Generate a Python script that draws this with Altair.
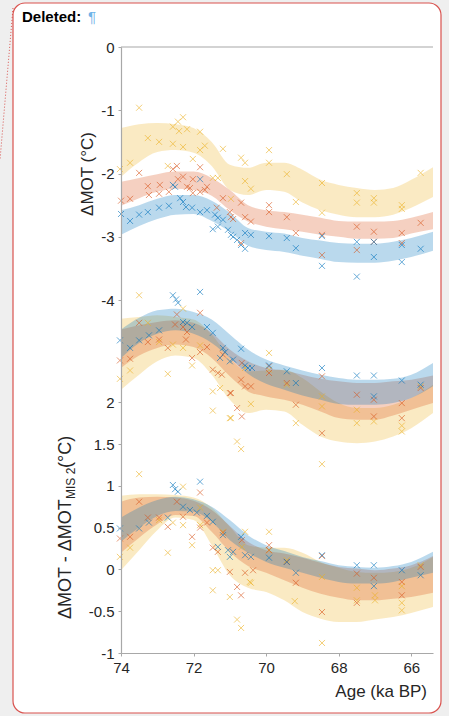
import altair as alt
import pandas as pd

# ---------------- data ----------------
SERIES = ["blue", "red", "yellow"]
COLORS = ["#0072BD", "#D95319", "#EDB120"]

# ages (ka BP) at which the uncertainty bands are read
KA = [74, 73.5, 73, 72.5, 72, 71.5, 71, 70.5, 70, 69.5, 69, 68.5, 68, 67.5, 67, 66.5, 66, 65.4]

# upper panel: ΔMOT (°C)
top_yellow_hi = [-1.28, -1.22, -1.20, -1.22, -1.28, -1.50, -1.86, -1.91, -1.83, -1.83, -1.94, -2.10, -2.18, -2.23, -2.26, -2.23, -2.10, -1.90]
top_yellow_lo = [-2.05, -1.82, -1.66, -1.63, -1.67, -1.88, -2.26, -2.34, -2.26, -2.29, -2.46, -2.58, -2.65, -2.69, -2.69, -2.65, -2.54, -2.37]
top_red_hi = [-2.13, -2.07, -2.01, -1.97, -1.97, -2.07, -2.26, -2.50, -2.58, -2.61, -2.65, -2.70, -2.75, -2.76, -2.76, -2.75, -2.70, -2.61]
top_red_lo = [-2.51, -2.39, -2.29, -2.24, -2.26, -2.35, -2.58, -2.76, -2.84, -2.88, -2.92, -2.97, -3.00, -3.03, -3.03, -3.02, -2.95, -2.88]
top_blue_hi = [-2.58, -2.50, -2.40, -2.34, -2.34, -2.43, -2.62, -2.86, -2.92, -2.95, -3.02, -3.06, -3.10, -3.11, -3.11, -3.08, -3.02, -2.92]
top_blue_lo = [-2.97, -2.83, -2.72, -2.65, -2.64, -2.75, -2.92, -3.14, -3.21, -3.24, -3.30, -3.35, -3.40, -3.41, -3.41, -3.38, -3.32, -3.22]

# middle group (lower axis)
mid_blue_hi = [2.87, 3.01, 3.10, 3.12, 3.08, 2.99, 2.81, 2.63, 2.51, 2.44, 2.38, 2.33, 2.29, 2.27, 2.27, 2.28, 2.33, 2.47]
mid_blue_lo = [2.53, 2.71, 2.82, 2.86, 2.82, 2.71, 2.53, 2.34, 2.22, 2.15, 2.08, 2.03, 1.98, 1.97, 1.97, 1.99, 2.05, 2.19]
mid_red_hi = [2.87, 2.92, 2.96, 2.98, 2.95, 2.83, 2.63, 2.49, 2.41, 2.38, 2.33, 2.28, 2.25, 2.23, 2.23, 2.25, 2.27, 2.32]
mid_red_lo = [2.41, 2.56, 2.65, 2.69, 2.66, 2.53, 2.31, 2.13, 2.07, 2.03, 1.97, 1.89, 1.81, 1.79, 1.79, 1.84, 1.91, 1.99]
mid_yellow_hi = [3.00, 3.02, 3.04, 3.02, 2.99, 2.81, 2.53, 2.37, 2.38, 2.39, 2.29, 2.13, 1.99, 1.93, 1.93, 1.97, 2.05, 2.21]
mid_yellow_lo = [2.15, 2.33, 2.49, 2.56, 2.53, 2.33, 2.03, 1.87, 1.91, 1.89, 1.73, 1.59, 1.53, 1.51, 1.53, 1.59, 1.69, 1.87]

# lower group: ΔMOT - ΔMOT_MIS2 (°C)
bot_blue_hi = [0.62, 0.74, 0.83, 0.87, 0.84, 0.75, 0.59, 0.41, 0.29, 0.22, 0.15, 0.10, 0.05, 0.03, 0.02, 0.04, 0.09, 0.21]
bot_blue_lo = [0.33, 0.50, 0.64, 0.70, 0.69, 0.57, 0.35, 0.20, 0.09, 0.02, -0.04, -0.10, -0.15, -0.17, -0.17, -0.15, -0.10, -0.04]
bot_red_hi = [0.81, 0.86, 0.87, 0.86, 0.82, 0.71, 0.52, 0.33, 0.23, 0.19, 0.14, 0.08, 0.03, 0.01, -0.01, 0.01, 0.05, 0.16]
bot_red_lo = [0.20, 0.38, 0.54, 0.65, 0.64, 0.45, 0.21, 0.04, -0.04, -0.13, -0.22, -0.29, -0.34, -0.37, -0.37, -0.35, -0.33, -0.28]
bot_yellow_hi = [0.88, 0.90, 0.90, 0.89, 0.86, 0.74, 0.51, 0.29, 0.26, 0.26, 0.20, 0.09, 0.02, -0.03, -0.04, -0.03, 0.02, 0.15]
bot_yellow_lo = [-0.01, 0.23, 0.47, 0.62, 0.59, 0.29, -0.07, -0.22, -0.27, -0.37, -0.51, -0.59, -0.63, -0.63, -0.60, -0.57, -0.52, -0.45]

# individual records (age ka BP, value)
top_yellow_pts = [(74.03, -1.93), (73.75, -1.83), (73.50, -0.96), (73.26, -1.44), (72.95, -1.50), (72.71, -1.88),
                  (72.57, -1.26), (72.57, -1.53), (72.43, -1.18), (72.40, -1.33), (72.29, -1.11), (72.29, -1.58),
                  (72.18, -1.30), (72.02, -1.77), (71.82, -1.34), (71.82, -1.63), (71.69, -1.56), (71.47, -2.07),
                  (71.33, -2.07), (71.19, -1.61), (70.97, -2.40), (70.69, -1.75), (70.58, -1.83), (70.58, -2.12),
                  (70.42, -2.24), (69.92, -1.63), (69.92, -1.83), (69.43, -2.01), (69.18, -2.45), (68.46, -2.15),
                  (68.46, -2.62), (67.50, -2.31), (67.50, -2.46), (67.03, -2.39), (67.03, -2.46), (66.26, -2.50),
                  (66.26, -2.56), (65.74, -1.99)]
top_red_pts = [(74.00, -2.43), (73.75, -2.40), (73.50, -1.99), (73.26, -2.20), (73.23, -2.34), (72.95, -2.32),
               (72.93, -2.18), (72.68, -2.29), (72.57, -1.93), (72.46, -1.88), (72.43, -2.09), (72.29, -2.05),
               (72.18, -2.21), (72.10, -2.23), (72.02, -2.09), (72.02, -2.31), (71.82, -1.90), (71.82, -2.29),
               (71.69, -2.26), (71.63, -2.21), (71.36, -2.54), (71.19, -2.39), (71.00, -2.61), (70.97, -2.69),
               (70.91, -2.72), (70.69, -2.46), (70.69, -3.10), (70.58, -2.69), (70.42, -2.76), (69.92, -2.50),
               (69.92, -2.61), (69.43, -2.69), (69.18, -2.94), (68.46, -2.97), (68.46, -3.29), (67.50, -2.84),
               (67.50, -3.21), (67.03, -2.92), (67.03, -3.08), (66.26, -2.94), (66.26, -3.10), (65.74, -2.78)]
top_blue_pts = [(74.00, -2.64), (73.75, -2.75), (73.50, -2.65), (73.26, -2.61), (72.95, -2.54), (72.68, -2.51),
                (72.57, -2.18), (72.51, -2.21), (72.37, -2.39), (72.29, -2.45), (72.21, -2.53), (72.04, -2.54),
                (71.82, -2.09), (71.82, -2.61), (71.63, -2.58), (71.47, -2.88), (71.41, -2.65), (71.33, -2.70),
                (71.33, -2.84), (71.19, -2.73), (71.05, -2.89), (70.97, -2.97), (70.91, -3.00), (70.80, -3.05),
                (70.69, -3.13), (70.58, -2.94), (70.58, -3.19), (70.42, -2.97), (69.92, -2.99), (69.43, -3.02),
                (69.18, -3.18), (68.46, -2.99), (68.46, -3.46), (67.50, -3.08), (67.50, -3.63), (67.03, -3.08),
                (67.03, -3.32), (66.26, -3.13), (66.26, -3.40), (65.74, -3.19)]

mid_blue_pts = [(74.03, 2.74), (73.75, 2.65), (73.50, 2.74), (73.23, 2.80), (72.95, 2.86), (72.57, 3.28),
                (72.48, 3.23), (72.43, 3.19), (72.29, 2.96), (72.18, 2.95), (72.04, 2.90), (71.82, 3.32),
                (71.63, 2.90), (71.47, 2.83), (71.27, 2.53), (71.19, 2.65), (71.13, 2.60), (71.00, 2.49),
                (70.91, 2.51), (70.69, 2.64), (70.58, 2.44), (70.50, 2.41), (70.39, 2.41), (69.92, 2.44),
                (69.43, 2.37), (69.18, 2.23), (68.46, 2.41), (67.50, 2.32), (67.03, 2.32), (67.03, 2.07),
                (66.26, 2.26), (65.74, 2.21)]
mid_red_pts = [(74.03, 2.50), (73.75, 2.52), (73.50, 2.95), (73.26, 2.72), (72.95, 2.75), (72.71, 2.65),
               (72.51, 2.93), (72.46, 3.05), (72.29, 2.90), (72.21, 2.75), (72.18, 2.84), (72.04, 2.53),
               (71.82, 3.07), (71.82, 2.60), (71.63, 2.66), (71.47, 2.39), (71.33, 2.35), (71.22, 2.33),
               (71.19, 2.57), (71.00, 2.11), (70.97, 2.11), (70.80, 1.93), (70.69, 2.27), (70.67, 2.47),
               (70.67, 1.83), (70.58, 2.19), (70.42, 2.19), (69.92, 2.43), (69.92, 2.35), (69.43, 2.23),
               (69.18, 1.97), (68.46, 2.31), (68.46, 1.63), (67.50, 2.09), (67.03, 2.03), (67.03, 1.83),
               (66.26, 1.99), (66.26, 1.81), (65.74, 2.17)]
mid_yellow_pts = [(74.03, 2.28), (73.75, 2.38), (73.50, 3.28), (73.26, 2.95), (72.95, 2.72), (72.71, 2.34),
                  (72.57, 2.69), (72.29, 3.12), (72.29, 2.65), (72.04, 2.44), (71.82, 2.68), (71.47, 2.13),
                  (71.47, 1.90), (71.27, 2.17), (71.00, 1.81), (70.97, 1.81), (70.80, 1.53), (70.69, 1.44),
                  (70.58, 2.41), (70.42, 1.98), (69.92, 2.59), (69.92, 2.39), (69.43, 2.21), (69.18, 1.75),
                  (68.46, 2.07), (68.46, 1.95), (68.46, 1.26), (67.50, 1.91), (67.50, 1.75), (67.03, 1.77),
                  (66.26, 1.72), (66.26, 1.65), (65.74, 2.19)]

bot_blue_pts = [(74.03, 0.49), (73.50, 0.49), (73.23, 0.56), (72.71, 0.62), (72.57, 1.01), (72.51, 0.96),
                (72.43, 0.93), (72.29, 0.75), (72.10, 0.71), (71.91, 0.68), (71.82, 1.05), (71.63, 0.64),
                (71.47, 0.57), (71.33, 0.27), (71.19, 0.41), (71.05, 0.23), (71.00, 0.15), (70.91, 0.21),
                (70.69, 0.39), (70.58, 0.17), (70.42, 0.15), (69.92, 0.14), (69.43, 0.09), (69.18, -0.04),
                (68.46, 0.17), (67.50, 0.05), (67.03, 0.05), (67.03, -0.20), (66.26, -0.01), (65.74, -0.07)]
bot_red_pts = [(74.03, 0.37), (73.75, 0.39), (73.50, 0.81), (73.26, 0.62), (72.95, 0.62), (72.71, 0.51),
               (72.46, 0.81), (72.29, 0.63), (72.04, 0.39), (71.82, 0.92), (71.82, 0.50), (71.63, 0.56),
               (71.47, 0.26), (71.33, 0.21), (71.19, 0.44), (71.00, -0.03), (70.80, -0.21), (70.69, -0.31),
               (70.67, 0.35), (70.58, -0.04), (70.36, -0.01), (69.92, 0.29), (69.92, 0.23), (69.43, 0.09),
               (69.18, -0.16), (68.46, 0.16), (68.46, -0.51), (67.50, -0.05), (67.50, -0.40), (67.03, -0.10),
               (66.26, -0.15), (66.26, -0.31), (65.74, 0.03)]
bot_yellow_pts = [(74.03, 0.15), (73.75, 0.26), (73.50, 1.14), (72.95, 0.59), (72.71, 0.20), (72.57, 0.56),
                  (72.29, 0.99), (72.29, 0.53), (72.04, 0.29), (71.82, 0.74), (71.82, 0.53), (71.47, -0.01),
                  (71.47, -0.25), (71.33, -0.01), (71.19, 0.45), (71.00, -0.33), (70.80, -0.60), (70.69, -0.70),
                  (70.67, 0.27), (70.58, 0.45), (70.45, -0.15), (70.42, -0.16), (69.92, 0.45), (69.92, 0.23),
                  (69.43, 0.11), (69.21, -0.38), (68.46, -0.09), (68.46, -0.88), (67.50, -0.22), (67.50, -0.37),
                  (67.00, -0.31), (67.00, -0.37), (66.26, -0.20), (66.26, -0.40), (66.26, -0.49), (65.74, 0.05)]

X_TICKS = [74, 72, 70, 68, 66]
TOP_TICKS = [0, -1, -2, -3, -4]
BOT_TICKS = [-1, -0.5, 0, 0.5, 1, 1.5, 2]

# ---------------- tables ----------------
def bands(group, items):
    rows = []
    for series, lo, hi in items:
        for k, l, h in zip(KA, lo, hi):
            rows.append({"group": group, "series": series, "ka": k, "lo": l, "hi": h})
    return rows

def points(group, items):
    rows = []
    for series, pts in items:
        for k, v in pts:
            rows.append({"group": group, "series": series, "ka": k, "val": v})
    return rows

top_band_df = pd.DataFrame(bands("top", [("yellow", top_yellow_lo, top_yellow_hi),
                                         ("red", top_red_lo, top_red_hi),
                                         ("blue", top_blue_lo, top_blue_hi)]))
low_band_df = pd.DataFrame(bands("mid", [("yellow", mid_yellow_lo, mid_yellow_hi),
                                         ("red", mid_red_lo, mid_red_hi),
                                         ("blue", mid_blue_lo, mid_blue_hi)])
                           + bands("bot", [("yellow", bot_yellow_lo, bot_yellow_hi),
                                           ("red", bot_red_lo, bot_red_hi),
                                           ("blue", bot_blue_lo, bot_blue_hi)]))
top_pts_df = pd.DataFrame(points("top", [("yellow", top_yellow_pts), ("red", top_red_pts), ("blue", top_blue_pts)]))
low_pts_df = pd.DataFrame(points("mid", [("yellow", mid_yellow_pts), ("red", mid_red_pts), ("blue", mid_blue_pts)])
                          + points("bot", [("yellow", bot_yellow_pts), ("red", bot_red_pts), ("blue", bot_blue_pts)]))

# ---------------- styling ----------------
FONT = "Liberation Sans"
AXIS_GRAY = "#a8a8a8"
TXT = "#262626"
W, H = 312, 606
XPATH = "M -1 -1 L 1 1 M -1 1 L 1 -1"
label_expr = "(datum.value < 0 ? '-' : '') + abs(datum.value)"

cscale = alt.Scale(domain=SERIES, range=COLORS)
xscale = alt.Scale(domain=[65.4, 74], reverse=True, nice=False, zero=False)
xaxis = alt.Axis(values=X_TICKS, title=None, grid=False, labelFont=FONT, labelFontSize=15,
                 labelColor=TXT, domainColor=AXIS_GRAY, domainWidth=1.2, tickColor=AXIS_GRAY,
                 tickSize=3, labelPadding=4, labelFlush=False, zindex=2)
X = alt.X("ka:Q", scale=xscale, axis=xaxis)

top_scale = alt.Scale(domain=[-9.58, 0], nice=False, zero=False)
low_scale = alt.Scale(domain=[-1, 6.25], nice=False, zero=False)
top_axis = alt.Axis(values=TOP_TICKS, orient="left", title=None, grid=False, labelExpr=label_expr,
                    labelFont=FONT, labelFontSize=15, labelColor=TXT, domainColor=AXIS_GRAY,
                    domainWidth=1.2, tickColor=AXIS_GRAY, tickSize=3, labelPadding=4, zindex=2)
low_axis = alt.Axis(values=BOT_TICKS, orient="left", title=None, grid=False, labelExpr=label_expr,
                    labelFont=FONT, labelFontSize=15, labelColor=TXT, domain=False,
                    tickColor=AXIS_GRAY, tickSize=3, labelPadding=4, zindex=2)

color = alt.Color("series:N", scale=cscale, legend=None)

top_bands = alt.Chart(top_band_df).mark_area(opacity=0.27, interpolate="monotone").encode(
    x=X, y=alt.Y("lo:Q", scale=top_scale, axis=top_axis, stack=None), y2="hi:Q",
    color=color, detail="group:N")
top_points = alt.Chart(top_pts_df).mark_point(shape=XPATH, size=36, strokeWidth=1, opacity=0.6,
                                              filled=False).encode(
    x=X, y=alt.Y("val:Q", scale=top_scale, axis=top_axis), color=color)
top_layer = alt.layer(top_bands, top_points)

low_bands = alt.Chart(low_band_df).mark_area(opacity=0.27, interpolate="monotone").encode(
    x=X, y=alt.Y("lo:Q", scale=low_scale, axis=low_axis, stack=None), y2="hi:Q",
    color=color, detail="group:N")
low_points = alt.Chart(low_pts_df).mark_point(shape=XPATH, size=36, strokeWidth=1, opacity=0.6,
                                              filled=False).encode(
    x=X, y=alt.Y("val:Q", scale=low_scale, axis=low_axis), color=color)
low_layer = alt.layer(low_bands, low_points)

# ---------------- page decoration & titles ----------------
one = pd.DataFrame({"k": [0]})
box = alt.Chart(one).mark_rect(fill="white", stroke="#d9534f", strokeWidth=1.2, cornerRadius=12).encode(
    x=alt.value(-108), x2=alt.value(320), y=alt.value(-44), y2=alt.value(666))
connector = alt.Chart(one).mark_rule(stroke="#d9534f", strokeDash=[1, 2], strokeWidth=1).encode(
    x=alt.value(-108), y=alt.value(-39), x2=alt.value(-121), y2=alt.value(113))
top_border = alt.Chart(one).mark_rule(stroke=AXIS_GRAY, strokeWidth=1.2).encode(
    x=alt.value(0), x2=alt.value(W), y=alt.value(0))

def txt(s, x, y, size=17, angle=0, align="center", weight="normal", col=TXT, baseline="alphabetic"):
    kw = dict(text=s, font=FONT, fontSize=size, align=align, baseline=baseline,
              fontWeight=weight, color=col)
    if angle:
        kw["angle"] = angle
    return alt.Chart(one).mark_text(**kw).encode(x=alt.value(x), y=alt.value(y))

deleted = txt("Deleted:", -99, -25, size=15, align="left", weight="bold", col="#000000")
pilcrow = txt("¶", -33, -25, size=15, align="left", col="#6fb3e8")
top_title = txt("ΔMOT (°C)", -28, 127, angle=270, align="center")
low_title_a = txt("ΔMOT - ΔMOT", -50, 572, size=18, angle=270, align="left")
low_title_b = txt("MIS 2", -46, 452, size=12, angle=270, align="left")
low_title_c = txt(" (°C)", -50, 421, size=18, angle=270, align="left")
x_title = txt("Age (ka BP)", 306, 650, align="right")

chart = alt.layer(
    box, connector, top_border, top_layer, low_layer,
    deleted, pilcrow, top_title, low_title_a, low_title_b, low_title_c, x_title
).resolve_scale(y="independent").properties(
    width=W, height=H,
    padding={"left": 121, "top": 47, "right": 16, "bottom": 63},
    autosize=alt.AutoSizeParams(type="none"),
    background="#efefef",
).configure_view(stroke=None)

chart.save("out.html", embed_options={"renderer": "svg", "actions": False})
